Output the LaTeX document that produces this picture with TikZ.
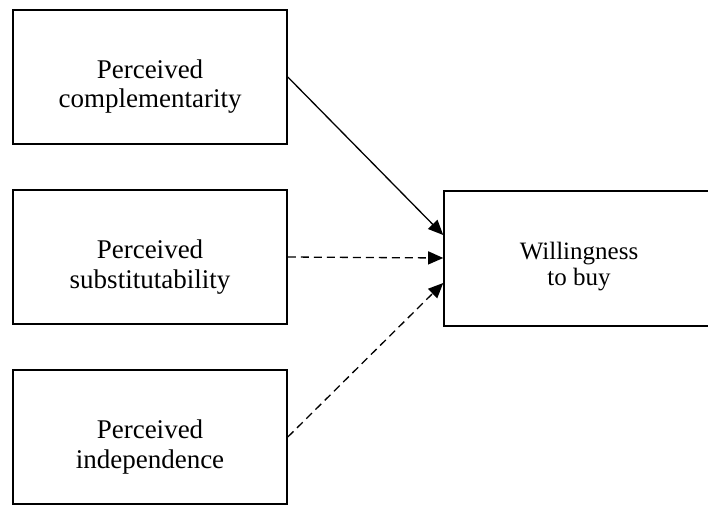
\documentclass[tikz,border=0pt]{standalone}
\usepackage{fontspec}
\setmainfont{Liberation Serif}
\usetikzlibrary{arrows.meta}
\begin{document}
\begin{tikzpicture}[x=1pt,y=-1pt,
  box/.style={draw, line width=1.6pt, rectangle, inner sep=0pt},
  lefttext/.style={align=center, inner sep=0pt, font=\fontsize{27}{29.5}\selectfont},
  righttext/.style={align=center, inner sep=0pt, font=\fontsize{25}{26}\selectfont},
  link/.style={line width=1.3pt, -{Triangle[length=15pt,width=13pt]}},
  dashlink/.style={link, dash pattern=on 8pt off 5pt}]
\useasboundingbox (0,0) rectangle (708,505);
\clip (0,0) rectangle (708,505);
\node[box, minimum width=274pt, minimum height=134pt] (pc) at (150,77) {};
\node[box, minimum width=274pt, minimum height=134pt] (ps) at (150,257) {};
\node[box, minimum width=274pt, minimum height=134pt] (pi) at (150,437) {};
\node[box, minimum width=272pt, minimum height=135pt] (wtb) at (580,258.5) {};
\node[lefttext] (pct) at ([yshift=-9.5pt]pc.center) {Perceived\\complementarity};
\node[lefttext] (pst) at ([yshift=-10pt]ps.center) {Perceived\\substitutability};
\node[lefttext] (pit) at ([yshift=-10pt]pi.center) {Perceived\\independence};
\node[righttext] (wtbt) at ([xshift=-1pt,yshift=-8.5pt]wtb.center) {Willingness\\to buy};
\coordinate (ta) at (wtb.west |- 0,235);
\coordinate (tb) at (wtb.west |- 0,258);
\coordinate (tc) at (wtb.west |- 0,283);
\draw[link] (pc.east) -- (ta);
\draw[dashlink] (ps.east) -- (tb);
\draw[dashlink] (pi.east) -- (tc);
\end{tikzpicture}
\end{document}
